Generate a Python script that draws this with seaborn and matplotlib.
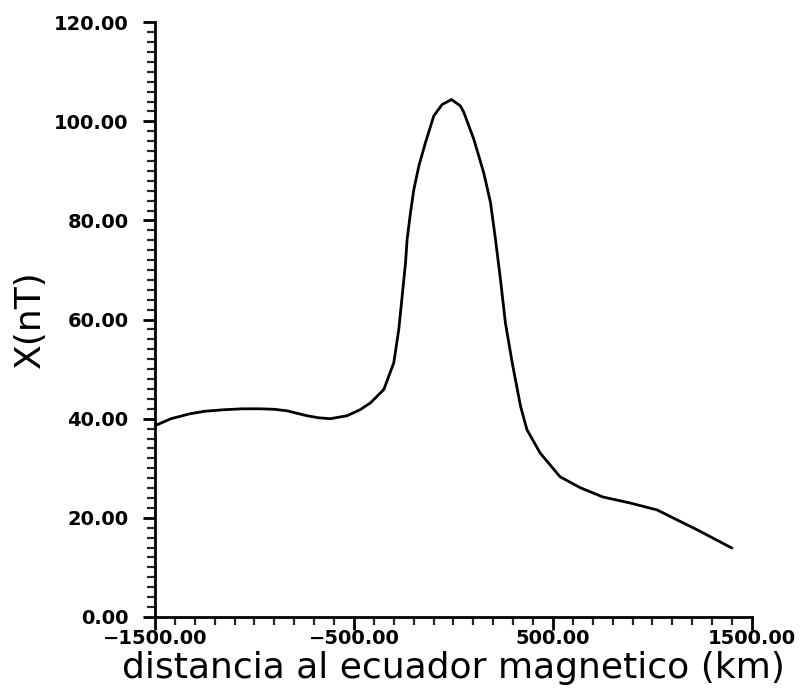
import matplotlib
matplotlib.use("Agg")
import matplotlib.pyplot as plt
import seaborn as sns
import pandas as pd
from matplotlib.ticker import MultipleLocator, FuncFormatter

distancia_km = [-1500, -1420, -1324, -1250, -1158, -1060, -972, -900, -837, -736,
                -680, -620, -535, -470, -417, -350, -300, -275, -258, -241,
                -233, -216, -199, -174, -141, -99, -57, -10, 35, 52,
                77, 102, 152, 186, 211, 236, 261, 295, 337, 369,
                435, 535, 636, 751, 887, 1023, 1123, 1224, 1399]
x_nT = [38.6, 40.0, 41.0, 41.5, 41.8, 42.0, 42.0, 41.9, 41.6, 40.6,
        40.2, 40.0, 40.6, 41.8, 43.2, 45.9, 51.3, 58.0, 64.7, 71.5,
        76.2, 81.6, 86.3, 91.0, 95.7, 101.1, 103.4, 104.4, 103.1, 101.8,
        99.1, 96.4, 89.6, 83.6, 76.2, 68.1, 59.3, 51.3, 42.5, 37.8,
        33.1, 28.3, 26.1, 24.2, 23.0, 21.6, 19.6, 17.6, 13.9]

df = pd.DataFrame({"d": distancia_km, "x": x_nT})

sns.set_style("ticks")
plt.rcParams['font.family'] = ['DejaVu Sans']

fig = plt.figure(figsize=(8.06, 6.94), dpi=100)
ax = fig.add_axes([0.1923, 0.111, 0.7407, 0.857])

sns.lineplot(data=df, x="d", y="x", ax=ax, color="black", linewidth=2.0, sort=False)

ax.set_xlim(-1500, 1500)
ax.set_ylim(0, 120)
ax.xaxis.set_major_locator(MultipleLocator(1000, offset=500))
ax.xaxis.set_minor_locator(MultipleLocator(100))
ax.yaxis.set_major_locator(MultipleLocator(20))
ax.yaxis.set_minor_locator(MultipleLocator(2))
fmt = FuncFormatter(lambda v, p: f"{v:.2f}".replace("-", "\u2212"))
ax.xaxis.set_major_formatter(fmt)
ax.yaxis.set_major_formatter(fmt)

for s in ["top", "right"]:
    ax.spines[s].set_visible(False)
for s in ["left", "bottom"]:
    ax.spines[s].set_linewidth(2.0)
    ax.spines[s].set_color("black")

ax.tick_params(axis="both", which="major", length=9, width=2, direction="out",
               labelsize=14, colors="black")
ax.tick_params(axis="both", which="minor", length=6, width=1.6, direction="out")
ax.tick_params(axis="y", which="major", pad=10)
ax.tick_params(axis="x", which="major", pad=0)
for lab in ax.get_xticklabels() + ax.get_yticklabels():
    lab.set_fontweight("bold")

ax.set_xlabel("distancia al ecuador magnetico (km)", fontsize=26, labelpad=2,
              color="black")
ax.set_ylabel("X(nT)", fontsize=26, labelpad=5, color="black")

fig.savefig("out.png", dpi=100)
